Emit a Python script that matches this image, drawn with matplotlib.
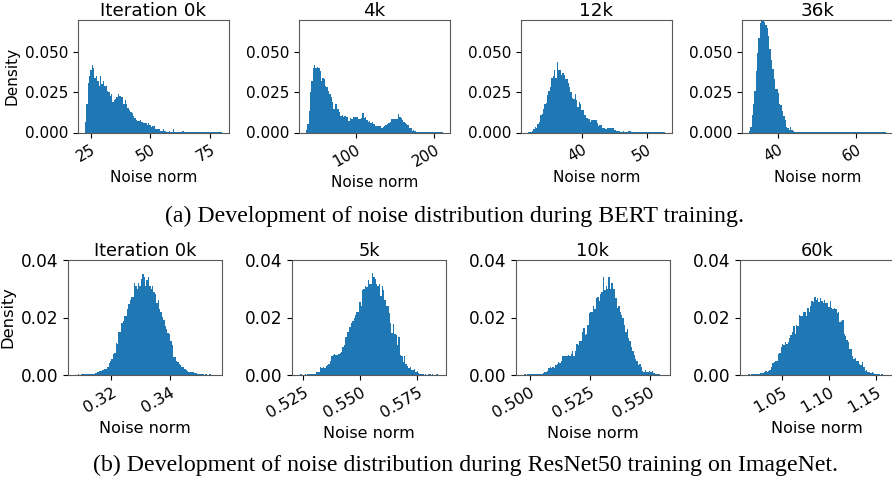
import matplotlib.pyplot as plt
import numpy as np

# --- BERT noise-norm histograms (bin fraction per bin) ---
bert_titles = ["Iteration 0k", "4k", "12k", "36k"]
bert_ranges = [(22.6, 80.0), (36.7, 211.0), (31.5, 52.9), (32.5, 67.6)]
bert_ticks = [[25, 50, 75], [100, 200], [40, 50], [40, 60]]

bert_0k = [0.0067, 0.018, 0.031, 0.035, 0.039, 0.042, 0.040, 0.034, 0.035, 0.032,
           0.029, 0.035, 0.030, 0.032, 0.029, 0.029, 0.026, 0.025, 0.023, 0.024,
           0.019, 0.020, 0.021, 0.022, 0.024, 0.023, 0.022, 0.022, 0.018, 0.020,
           0.018, 0.015, 0.014, 0.013, 0.012, 0.010, 0.009, 0.008, 0.007, 0.007,
           0.008, 0.0067, 0.006, 0.006, 0.0056, 0.0046, 0.006, 0.0046, 0.0035, 0.0038,
           0.0038, 0.002, 0.002, 0.002, 0.002, 0.0012, 0.0008, 0.0019, 0.0008, 0.0006,
           0.0004, 0.0012, 0.0006, 0.0004, 0.0019, 0.0006, 0.0002, 0.0002, 0.0002, 0.0002,
           0.0002, 0.0008, 0.0002, 0.0001, 0.0001, 0.0002, 0.0001, 0.0001, 0.0001, 0.0001,
           0.0001, 0.0001, 0.0001, 0.0001, 0.0001, 0.0001, 0.0001, 0.0001, 0.0001, 0.0001,
           0.0001, 0.0001, 0.0001, 0.0001, 0.0001, 0.0001, 0.0001, 0.0001, 0.0001, 0.0001]
bert_4k = [0.0015, 0.0056, 0.0133, 0.0254, 0.032, 0.040, 0.042, 0.040, 0.041, 0.040,
           0.038, 0.032, 0.034, 0.033, 0.029, 0.0285, 0.026, 0.024, 0.022, 0.019,
           0.0146, 0.0175, 0.0175, 0.0146, 0.0125, 0.0104, 0.011, 0.0094, 0.010, 0.0094,
           0.0098, 0.0073, 0.0092, 0.0081, 0.0098, 0.0096, 0.0096, 0.0096, 0.0083, 0.0081,
           0.0092, 0.0119, 0.0088, 0.0098, 0.0077, 0.0067, 0.0071, 0.0056, 0.0063, 0.0054,
           0.0042, 0.0042, 0.0042, 0.0042, 0.0042, 0.0031, 0.0035, 0.0042, 0.0046, 0.0052,
           0.0056, 0.0063, 0.0083, 0.0083, 0.0083, 0.0083, 0.0083, 0.0117, 0.0096, 0.0092,
           0.0075, 0.0067, 0.0056, 0.0050, 0.0046, 0.0029, 0.0029, 0.0012, 0.0015, 0.0008,
           0.0006, 0.0004, 0.0002, 0.0002, 0.0001, 0.0001, 0.0001, 0.0001, 0.0001, 0.0001,
           0.0001, 0.0001, 0.0001, 0.0001, 0.0001, 0.0001, 0.0001, 0.0001, 0.0001, 0.0001]
bert_12k = [0.0002, 0.0002, 0.0002, 0.0008, 0.002, 0.0035, 0.0029, 0.0056, 0.0067, 0.011,
            0.0117, 0.0146, 0.018, 0.0185, 0.0233, 0.026, 0.0285, 0.034, 0.035, 0.039,
            0.034, 0.044, 0.039, 0.039, 0.036, 0.037, 0.036, 0.0335, 0.033, 0.031,
            0.0285, 0.025, 0.0217, 0.021, 0.0237, 0.020, 0.016, 0.019, 0.0175, 0.014,
            0.014, 0.0108, 0.0092, 0.0092, 0.0083, 0.0067, 0.0077, 0.0077, 0.0077, 0.0077,
            0.0056, 0.0040, 0.0046, 0.0046, 0.0025, 0.0025, 0.0021, 0.0021, 0.0027, 0.0027,
            0.0027, 0.0027, 0.0027, 0.0015, 0.0008, 0.0008, 0.0008, 0.0004, 0.0004, 0.0008,
            0.0002, 0.0002, 0.0004, 0.0008, 0.0008, 0.0002, 0.0001, 0.0001, 0.0001, 0.0001,
            0.0001, 0.0001, 0.0001, 0.0001, 0.0001, 0.0001, 0.0001, 0.0001, 0.0001, 0.0001,
            0.0001, 0.0001, 0.0001, 0.0001, 0.0001, 0.0001, 0.0001, 0.0001, 0.0001, 0.0001]
bert_36k = [0.001, 0.0037, 0.0106, 0.0177, 0.026, 0.0385, 0.0495, 0.0585, 0.068, 0.072,
            0.073, 0.069, 0.067, 0.065, 0.060, 0.052, 0.045, 0.0392, 0.0335, 0.0273,
            0.027, 0.0244, 0.0177, 0.0169, 0.0135, 0.0104, 0.0075, 0.0035, 0.0031, 0.0015,
            0.0033, 0.0017, 0.001, 0.0006, 0.0006] + [0.00005] * 65

# --- ResNet50 noise-norm histograms ---
resnet_titles = ["Iteration 0k", "5k", "10k", "60k"]
resnet_ranges = [(0.3076, 0.3555), (0.5232, 0.5845), (0.4972, 0.5556), (1.0126, 1.162)]
resnet_ticks = [[0.32, 0.34], [0.525, 0.550, 0.575], [0.500, 0.525, 0.550], [1.05, 1.10, 1.15]]
resnet_ticklabels = [["0.32", "0.34"], ["0.525", "0.550", "0.575"],
                     ["0.500", "0.525", "0.550"], ["1.05", "1.10", "1.15"]]

resnet_0k = [0.0001, 0.0001, 0.0002, 0.0001, 0.0002, 0.0002, 0.0003, 0.0002, 0.0003, 0.0002,
             0.0005, 0.0005, 0.0005, 0.0005, 0.0006, 0.0008, 0.0009, 0.0015, 0.0015, 0.0019,
             0.0019, 0.002, 0.002, 0.0027, 0.0042, 0.0047, 0.0056, 0.0074, 0.0077, 0.011,
             0.0109, 0.015, 0.015, 0.018, 0.0187, 0.0206, 0.0206, 0.023, 0.0246, 0.026,
             0.027, 0.027, 0.032, 0.031, 0.030, 0.032, 0.031, 0.0335, 0.035, 0.034,
             0.031, 0.033, 0.034, 0.031, 0.030, 0.031, 0.029, 0.028, 0.025, 0.026,
             0.023, 0.022, 0.020, 0.019, 0.017, 0.016, 0.0147, 0.0144, 0.0117, 0.0103,
             0.0062, 0.0062, 0.005, 0.0044, 0.0039, 0.0035, 0.0027, 0.0027, 0.0021, 0.0018,
             0.0015, 0.0012, 0.0012, 0.0009, 0.0009, 0.0007, 0.0006, 0.0005, 0.0005, 0.0004,
             0.0002, 0.0002, 0.0001, 0.0002, 0.0001, 0.0001, 0.0002, 0.0001, 0.0001, 0.0001]
resnet_5k = [0.0001, 0.0002, 0.0001, 0.0001, 0.0002, 0.0001, 0.0002, 0.0002, 0.0003, 0.0002,
             0.0004, 0.0004, 0.0009, 0.0009, 0.0012, 0.0027, 0.0023, 0.0027, 0.0026, 0.003,
             0.0035, 0.0039, 0.0047, 0.0065, 0.007, 0.0074, 0.007, 0.0068, 0.0074, 0.0077,
             0.008, 0.0097, 0.0105, 0.0132, 0.015, 0.015, 0.0167, 0.018, 0.0187, 0.020,
             0.021, 0.022, 0.022, 0.0255, 0.024, 0.0295, 0.030, 0.031, 0.0305, 0.033,
             0.0315, 0.0315, 0.0355, 0.034, 0.0335, 0.0315, 0.031, 0.0315, 0.0275, 0.031,
             0.0295, 0.026, 0.024, 0.024, 0.0214, 0.018, 0.0147, 0.0178, 0.0144, 0.0138,
             0.0103, 0.0132, 0.0068, 0.0065, 0.0044, 0.0065, 0.0039, 0.0033, 0.0023, 0.0027,
             0.0019, 0.0018, 0.0021, 0.0009, 0.0015, 0.0007, 0.0005, 0.0002, 0.0002, 0.0001,
             0.0002, 0.0001, 0.0002, 0.0002, 0.0001, 0.0002, 0.0001, 0.0001, 0.0002, 0.0001]
resnet_10k = [0.0001, 0.0002, 0.0001, 0.0002, 0.0002, 0.0003, 0.0002, 0.0003, 0.0002, 0.0003,
              0.0003, 0.0004, 0.0004, 0.0005, 0.0007, 0.0009, 0.0009, 0.0015, 0.0023, 0.0027,
              0.0023, 0.0027, 0.0023, 0.0035, 0.0039, 0.0044, 0.0041, 0.005, 0.0065, 0.0065,
              0.0065, 0.0065, 0.007, 0.0065, 0.0074, 0.0082, 0.0065, 0.0085, 0.0109, 0.0105,
              0.0117, 0.0117, 0.015, 0.0164, 0.0138, 0.0144, 0.0175, 0.0214, 0.022, 0.0218,
              0.024, 0.023, 0.0267, 0.0273, 0.0257, 0.028, 0.029, 0.034, 0.0295, 0.031,
              0.030, 0.034, 0.030, 0.032, 0.030, 0.030, 0.0267, 0.0234, 0.024, 0.022,
              0.021, 0.0197, 0.0175, 0.015, 0.016, 0.0129, 0.0117, 0.0097, 0.0082, 0.0068,
              0.0056, 0.0047, 0.0035, 0.0039, 0.0027, 0.0015, 0.0012, 0.0018, 0.0012, 0.0009,
              0.0015, 0.0009, 0.0015, 0.0007, 0.0005, 0.0005, 0.0002, 0.0002, 0.0001, 0.0001]
resnet_60k = [0.0001, 0.0002, 0.0001, 0.0002, 0.0005, 0.0002, 0.0003, 0.0002, 0.0003, 0.0007,
              0.0007, 0.0007, 0.0009, 0.0015, 0.0012, 0.0015, 0.0019, 0.0027, 0.0042, 0.0044,
              0.0047, 0.005, 0.0074, 0.0077, 0.0097, 0.0109, 0.0105, 0.0115, 0.0109, 0.0115,
              0.0129, 0.014, 0.015, 0.017, 0.0144, 0.0175, 0.017, 0.021, 0.0206, 0.0206,
              0.022, 0.022, 0.0206, 0.0234, 0.022, 0.024, 0.0257, 0.0255, 0.0273, 0.026,
              0.0267, 0.0255, 0.0267, 0.0257, 0.025, 0.026, 0.025, 0.025, 0.0236, 0.0257,
              0.0234, 0.023, 0.0234, 0.023, 0.0214, 0.0218, 0.0185, 0.0187, 0.019, 0.0144,
              0.0136, 0.012, 0.0115, 0.009, 0.0089, 0.0065, 0.0056, 0.0058, 0.0047, 0.005,
              0.0039, 0.0035, 0.0044, 0.0027, 0.0015, 0.0019, 0.0009, 0.0012, 0.0007, 0.0012,
              0.0007, 0.0005, 0.0005, 0.0005, 0.0002, 0.0001, 0.0002, 0.0001, 0.0001, 0.0001]

bert_data = [bert_0k, bert_4k, bert_12k, bert_36k]
resnet_data = [resnet_0k, resnet_5k, resnet_10k, resnet_60k]

W, H = 892, 484
fig = plt.figure(figsize=(W / 100, H / 100), dpi=100)
BLUE = "#1f77b4"


def draw_hist(ax, heights, lo, hi):
    edges = np.linspace(lo, hi, len(heights) + 1)
    centers = (edges[:-1] + edges[1:]) / 2
    ax.hist(centers, bins=edges, weights=heights, color=BLUE)


def style(ax, title, ticks, labels, tsize, pad, xsize, ysize, lsize):
    ax.set_title(title, fontsize=tsize, pad=pad)
    ax.set_xticks(ticks)
    if labels is not None:
        ax.set_xticklabels(labels)
    ax.set_xlabel("Noise norm", fontsize=lsize)
    ax.tick_params(axis="x", labelsize=xsize)
    ax.tick_params(axis="y", labelsize=ysize)
    for lab in ax.get_xticklabels():
        lab.set_rotation(30)
        lab.set_ha("right")
        lab.set_rotation_mode("anchor")
    for sp in ax.spines.values():
        sp.set_color("0.35")


# top row (BERT)
top_lefts = [78, 299, 521, 742]
for i in range(4):
    ax = fig.add_axes([top_lefts[i] / W, 1 - 132.5 / H, 151 / W, 112.5 / H])
    lo, hi = bert_ranges[i]
    draw_hist(ax, bert_data[i], lo, hi)
    ax.set_ylim(0, 0.07)
    ax.set_yticks([0.0, 0.025, 0.05])
    ax.set_yticklabels(["0.000", "0.025", "0.050"])
    style(ax, bert_titles[i], bert_ticks[i], None, 13.2, 2.5, 11, 11, 11)
    if i == 0:
        ax.set_ylabel("Density", fontsize=11)

# bottom row (ResNet50)
bot_lefts = [68, 292, 516, 740]
for i in range(4):
    ax = fig.add_axes([bot_lefts[i] / W, 1 - 375 / H, 154 / W, 115 / H])
    lo, hi = resnet_ranges[i]
    draw_hist(ax, resnet_data[i], lo, hi)
    ax.set_ylim(0, 0.04)
    ax.set_yticks([0.0, 0.02, 0.04])
    ax.set_yticklabels(["0.00", "0.02", "0.04"])
    style(ax, resnet_titles[i], resnet_ticks[i], resnet_ticklabels[i], 12.8, 3, 11.5, 12.2, 11.5)
    if i == 0:
        ax.set_ylabel("Density", fontsize=11.7)

fig.text(455 / W, 1 - 216 / H, "(a) Development of noise distribution during BERT training.",
         ha="center", va="center", fontsize=17.2, family="Liberation Serif")
fig.text(466 / W, 1 - 465 / H,
         "(b) Development of noise distribution during ResNet50 training on ImageNet.",
         ha="center", va="center", fontsize=17.2, family="Liberation Serif")

fig.savefig("out.png", dpi=100)
